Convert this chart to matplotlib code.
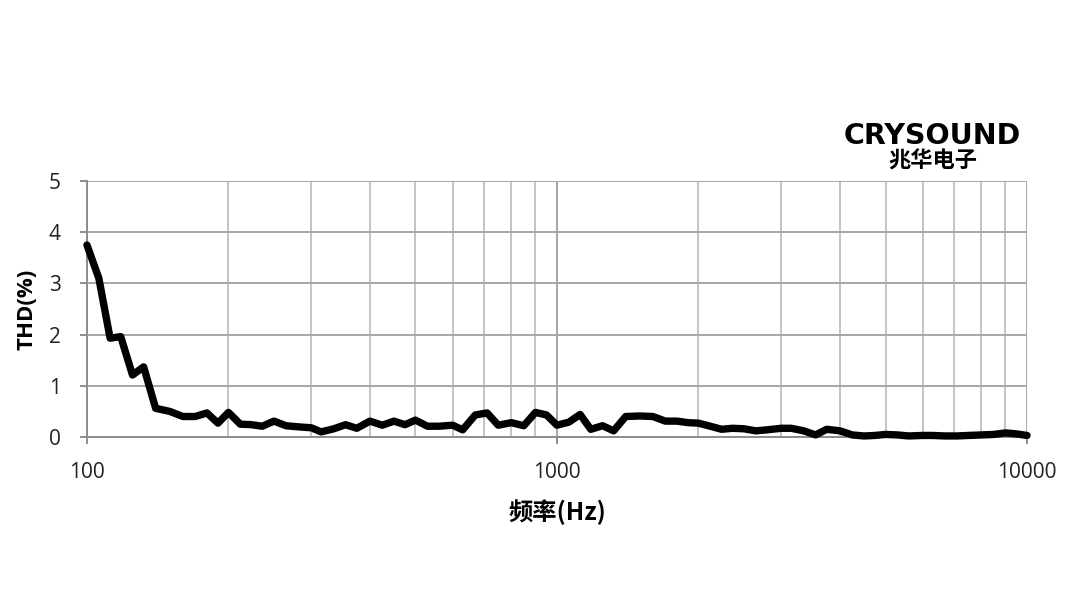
import numpy as np
import matplotlib
matplotlib.use("Agg")
import matplotlib.pyplot as plt
from matplotlib.ticker import FixedLocator, NullFormatter

#========================================================
# THD curve
#========================================================
freq_hz = [100, 106, 112, 118, 125, 132, 140, 150, 160, 170, 180, 190,
           200, 212, 224, 236, 250, 265, 280, 300, 315, 335, 355, 375,
           400, 425, 450, 475, 500, 530, 560, 600, 630, 670, 710, 750,
           800, 850, 900, 950, 1000, 1060, 1120, 1180, 1250, 1320, 1400,
           1500, 1600, 1700, 1800, 1900, 2000, 2120, 2240, 2360, 2500,
           2650, 2800, 3000, 3150, 3350, 3550, 3750, 4000, 4250, 4500,
           4750, 5000, 5300, 5600, 6000, 6300, 6700, 7100, 7500, 8000,
           8500, 9000, 9500, 10000]
thd_pct = [3.75, 3.10, 1.93, 1.96, 1.21, 1.37, 0.56, 0.50, 0.40, 0.40, 0.47, 0.27,
           0.48, 0.25, 0.24, 0.21, 0.31, 0.22, 0.20, 0.18, 0.10, 0.16, 0.24, 0.17,
           0.31, 0.23, 0.31, 0.24, 0.33, 0.21, 0.21, 0.23, 0.14, 0.43, 0.47, 0.23,
           0.28, 0.22, 0.48, 0.43, 0.23, 0.29, 0.44, 0.15, 0.22, 0.12, 0.40,
           0.41, 0.40, 0.31, 0.31, 0.28, 0.27, 0.21, 0.15, 0.17, 0.16,
           0.12, 0.14, 0.17, 0.17, 0.12, 0.04, 0.15, 0.12, 0.04, 0.02,
           0.03, 0.05, 0.04, 0.02, 0.03, 0.03, 0.02, 0.02, 0.03, 0.04,
           0.05, 0.08, 0.06, 0.03]

x_major = [100, 1000, 10000]
y_ticks = [0, 1, 2, 3, 4, 5]

plt.rcParams['font.family'] = ['Open Sans', 'Noto Sans CJK SC', 'DejaVu Sans']

fig = plt.figure(figsize=(10.87, 6.06), dpi=100)
ax = fig.add_axes([0.080, 0.2789, 0.8648, 0.4224])

ax.set_xscale('log')
ax.set_xlim(100, 10000)
ax.set_ylim(0, 5)

# grid
minor = [m * d for d in (100, 1000) for m in range(2, 10)]
ax.xaxis.set_major_locator(FixedLocator(x_major))
ax.xaxis.set_minor_locator(FixedLocator(minor))
ax.xaxis.set_minor_formatter(NullFormatter())
ax.set_xticks(x_major, [str(v) for v in x_major])
ax.set_yticks(y_ticks)
ax.grid(which='major', axis='both', color='#a6a6a6', lw=1.4)
ax.grid(which='minor', axis='x', color='#c4c4c4', lw=1.4)
ax.set_axisbelow(True)

ax.plot(freq_hz, thd_pct, color='black', lw=5.3, solid_joinstyle='round',
        solid_capstyle='round', zorder=3, clip_on=False)

for s in ('top', 'right'):
    ax.spines[s].set_visible(False)
for s in ('left', 'bottom'):
    ax.spines[s].set_color('#8c8c8c')
    ax.spines[s].set_linewidth(1.4)

ax.tick_params(axis='both', which='major', direction='out', length=5,
               width=1.4, color='#8c8c8c', labelsize=15, labelcolor='#222222')
ax.tick_params(axis='x', which='minor', length=0)
ax.tick_params(axis='x', which='major', pad=13)
ax.tick_params(axis='y', which='major', pad=14)

ax.set_ylabel('THD(%)', fontsize=16, fontweight='bold', labelpad=8)
ax.set_xlabel('频率(Hz)', fontsize=17.5, fontweight='bold', labelpad=12,
              family=['Noto Sans CJK SC', 'DejaVu Sans'])

# logo
fig.text(0.858, 0.775, 'CRYSOUND', fontsize=20.5, fontweight='bold',
         family=['DejaVu Sans'], ha='center', va='center')
fig.text(0.858, 0.735, '兆华电子', fontsize=16, fontweight='bold',
         family=['Noto Sans CJK SC'], ha='center', va='center')

plt.savefig('out.png', dpi=100)
